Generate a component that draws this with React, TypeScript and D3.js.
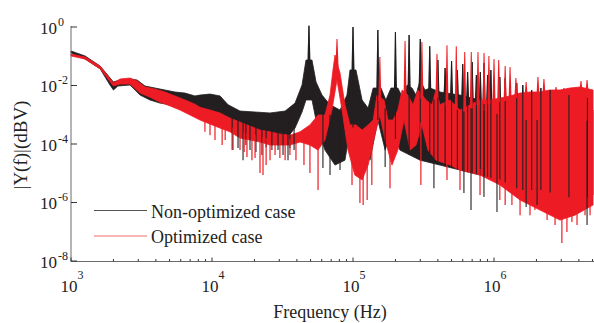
import React from "react";
import * as d3 from "d3";

type P = [number, number];

// [frequency (Hz), |Y(f)| (V)]
const blackUpper: P[] = [
  [1.0e3, 0.151], [1.26e3, 0.102], [1.61e3, 0.046], [2.0e3, 0.0132], [2.23e3, 0.0154],
  [2.62e3, 0.0167], [2.94e3, 0.0154], [3.35e3, 0.0096], [3.94e3, 0.0082], [4.64e3, 0.007],
  [5.46e3, 0.006], [6.44e3, 0.0055], [7.57e3, 0.0044], [8.22e3, 0.0047], [9.68e3, 0.0051],
  [1.14e4, 0.0044], [1.3e4, 0.0022], [1.58e4, 0.00134], [2.02e4, 0.00124], [2.58e4, 0.00115],
  [3.3e4, 0.00134], [3.88e4, 0.0025], [4.35e4, 0.0104], [4.64e4, 0.074], [5.12e4, 0.074],
  [5.47e4, 0.0132], [6.03e4, 0.0047], [6.87e4, 0.0022], [8.09e4, 0.00145], [9.06e4, 0.0047],
  [9.52e4, 0.034], [1.05e5, 0.034], [1.16e5, 0.0032], [1.28e5, 0.0017], [1.39e5, 0.0082],
  [1.58e5, 0.0082], [1.71e5, 0.0032], [1.86e5, 0.0082], [2.08e5, 0.0082], [2.26e5, 0.0037],
  [2.42e5, 0.0104], [2.62e5, 0.0082], [2.8e5, 0.0047], [2.99e5, 0.0154], [3.24e5, 0.007],
  [3.52e5, 0.0082], [4.14e5, 0.006], [5.74e5, 0.0047], [7.96e5, 0.0032], [1.1e6, 0.0022],
  [1.53e6, 0.00145], [2.12e6, 0.00145], [2.94e6, 0.00098], [4.07e6, 0.00124], [5.04e6, 0.00145],
];
const blackLower: P[] = [
  [1.0e3, 0.129], [1.26e3, 0.08], [1.61e3, 0.037], [1.89e3, 0.0104], [2.0e3, 0.007],
  [2.15e3, 0.0096], [2.62e3, 0.0104], [3.09e3, 0.0047], [3.63e3, 0.0032], [4.28e3, 0.0025],
  [5.04e3, 0.0022], [5.93e3, 0.0018], [6.98e3, 0.00145], [8.22e3, 0.0017], [9.68e3, 0.00124],
  [1.14e4, 6.6e-4], [1.34e4, 3.0e-4], [1.58e4, 2.0e-4], [2.02e4, 2.0e-4], [2.58e4, 1.73e-4],
  [3.3e4, 1.37e-4], [3.88e4, 3.5e-4], [4.35e4, 1.24e-3], [4.64e4, 0.0032], [5.12e4, 0.0032],
  [5.65e4, 3.0e-4], [6.33e4, 6.2e-5], [7.45e4, 1.9e-5], [8.77e4, 2.8e-5], [9.52e4, 3.0e-4],
  [1.05e5, 4.5e-4], [1.16e5, 6.2e-5], [1.32e5, 2.8e-5], [1.5e5, 6.6e-4], [1.69e5, 6.2e-5],
  [1.89e5, 3.0e-4], [2.15e5, 6.2e-5], [2.99e5, 2.8e-5], [4.14e5, 1.9e-5], [5.74e5, 1.29e-5],
  [7.96e5, 8.7e-6], [1.1e6, 5.9e-6], [1.53e6, 2.7e-6], [2.12e6, 2.7e-6], [2.94e6, 1.8e-6],
  [4.07e6, 1.22e-6], [5.04e6, 1.8e-6],
];
const blackPeaks: P[] = [
  [4.87e4, 1.1], [1.0e5, 1.0], [1.5e5, 0.79], [2.0e5, 0.67], [2.5e5, 0.53], [3.0e5, 0.39],
  [3.5e5, 0.22], [4.0e5, 0.074], [4.5e5, 0.04], [5.0e5, 0.069], [5.5e5, 0.034], [6.0e5, 0.054],
  [6.5e5, 0.029], [7.0e5, 0.064], [7.5e5, 0.023], [8.0e5, 0.029], [8.5e5, 0.059], [9.0e5, 0.023],
  [9.5e5, 0.034], [1.1e6, 0.0195], [1.2e6, 0.018], [1.45e6, 0.0122], [1.6e6, 0.0104],
  [1.85e6, 0.007], [2.15e6, 0.0082], [2.5e6, 0.007], [3.4e6, 0.0047], [4.6e6, 0.0037],
];
const blackDips: P[] = [
  [1.39e4, 6.2e-5], [1.53e4, 7.3e-5], [1.66e4, 2.8e-5], [1.74e4, 9.2e-5], [1.86e4, 6.2e-5],
  [2.05e4, 5.3e-5], [2.26e4, 4.2e-5], [2.42e4, 7.8e-5], [2.66e4, 6.2e-5], [2.94e4, 6.2e-5],
  [3.19e4, 4.2e-5], [3.46e4, 2.8e-5], [3.57e4, 7.3e-5], [3.82e4, 6.2e-5],
  [6.12e4, 1.51e-5], [6.87e4, 8.7e-6], [8.09e4, 1.29e-5], [1.69e5, 1.64e-5], [3.75e5, 3.1e-6],
  [6.12e5, 2.1e-6], [6.87e5, 5.5e-7], [8.49e5, 1.54e-6], [1.05e6, 4.7e-7], [1.69e6, 7.0e-7],
  [2.02e6, 8.2e-7], [4.57e6, 1.7e-7],
];

const redUpper: P[] = [
  [1.0e3, 0.119], [1.26e3, 0.094], [1.61e3, 0.046], [2.0e3, 0.0122], [2.23e3, 0.0167],
  [2.62e3, 0.018], [2.94e3, 0.0143], [3.35e3, 0.0089], [3.94e3, 0.0076], [4.64e3, 0.006],
  [5.46e3, 0.0044], [6.44e3, 0.0032], [7.57e3, 0.0023], [8.22e3, 0.0018], [9.68e3, 0.00145],
  [1.14e4, 0.00115], [1.34e4, 7.7e-4], [1.58e4, 5.6e-4], [1.86e4, 4.1e-4], [2.19e4, 3.0e-4],
  [2.58e4, 2.6e-4], [3.03e4, 2.2e-4], [3.57e4, 2.0e-4], [4.21e4, 2.6e-4], [4.95e4, 4.5e-4],
  [5.65e4, 9.8e-4], [6.33e4, 9.8e-4], [6.87e4, 0.0047], [7.21e4, 0.034], [7.45e4, 0.11],
  [8.09e4, 0.0267], [8.77e4, 0.0022], [9.52e4, 4.5e-4], [1.05e5, 4.5e-4], [1.16e5, 3.0e-4],
  [1.28e5, 4.5e-4], [1.39e5, 6.6e-4], [1.48e5, 0.0047], [1.66e5, 0.0032], [1.77e5, 6.6e-4],
  [1.92e5, 6.6e-4], [2.08e5, 0.00145], [2.23e5, 0.007], [2.45e5, 0.0047], [2.66e5, 0.0022],
  [2.89e5, 0.007], [3.3e5, 0.0032], [3.63e5, 0.0022], [3.88e5, 0.007], [4.14e5, 0.0022],
  [4.87e5, 0.0032], [5.74e5, 0.00145], [6.76e5, 0.0022], [7.96e5, 0.0032], [9.37e5, 0.0032],
  [1.1e6, 0.0037], [1.3e6, 0.0044], [1.53e6, 0.0055], [1.8e6, 0.006], [2.12e6, 0.006],
  [2.49e6, 0.007], [2.94e6, 0.007], [3.46e6, 0.0082], [4.07e6, 0.0089], [5.04e6, 0.007],
];
const redLower: P[] = [
  [1.0e3, 0.102], [1.26e3, 0.08], [1.61e3, 0.037], [2.0e3, 0.0096], [2.23e3, 0.0112],
  [2.62e3, 0.0112], [3.09e3, 0.0055], [3.63e3, 0.004], [4.28e3, 0.0027], [5.04e3, 0.002],
  [5.93e3, 0.00145], [6.98e3, 9.8e-4], [8.22e3, 6.6e-4], [9.68e3, 4.8e-4], [1.14e4, 3.5e-4],
  [1.34e4, 2.6e-4], [1.58e4, 1.6e-4], [1.86e4, 1.37e-4], [2.19e4, 1.17e-4], [2.58e4, 9.2e-5],
  [3.03e4, 9.2e-5], [3.57e4, 9.2e-5], [4.21e4, 1.17e-4], [4.95e4, 9.2e-5], [5.65e4, 6.2e-5],
  [6.33e4, 1.37e-4], [7.09e4, 0.00145], [7.7e4, 0.0154], [8.36e4, 0.00145], [9.22e4, 6.2e-5],
  [1.03e5, 8.7e-6], [1.16e5, 5.9e-6], [1.28e5, 1.9e-5], [1.43e5, 2.0e-4], [1.55e5, 9.8e-4],
  [1.69e5, 1.37e-4], [1.89e5, 1.9e-5], [2.08e5, 6.2e-5], [2.3e5, 6.6e-4], [2.54e5, 6.2e-5],
  [2.8e5, 9.2e-5], [3.08e5, 4.5e-4], [3.4e5, 6.2e-5], [3.88e5, 2.8e-5], [4.87e5, 1.9e-5],
  [5.74e5, 1.29e-5], [7.96e5, 8.7e-6], [1.1e6, 4.0e-6], [1.53e6, 1.22e-6], [2.12e6, 5.5e-7],
  [2.94e6, 2.5e-7], [3.75e6, 3.7e-7], [5.04e6, 8.2e-7],
];
const redPeaks: P[] = [
  [7.7e4, 0.39], [1.55e5, 0.094], [2.34e5, 0.33], [3.08e5, 0.31], [3.94e5, 0.119],
  [4.64e5, 0.24], [5.4e5, 0.22], [6.2e5, 0.14], [6.9e5, 0.14], [7.7e5, 0.14], [8.5e5, 0.129],
  [9.2e5, 0.102], [1.0e6, 0.08], [1.08e6, 0.074], [1.2e6, 0.046], [1.3e6, 0.043],
  [1.43e6, 0.018], [1.69e6, 0.0132], [2.05e6, 0.0195], [2.26e6, 0.0167], [2.75e6, 0.0089],
  [3.13e6, 0.0082], [4.14e6, 0.0143], [4.57e6, 0.0154],
];
const redDips: P[] = [
  [8.91e3, 2.6e-4], [9.68e3, 2.0e-4], [1.05e4, 1.37e-4], [1.18e4, 9.2e-5], [1.24e4, 1.37e-4],
  [1.41e4, 6.2e-5], [1.58e4, 6.2e-5], [1.69e4, 5.3e-5], [1.77e4, 3.6e-5], [1.92e4, 2.8e-5],
  [2.02e4, 3.3e-5], [2.19e4, 1.02e-5], [2.3e4, 8.7e-6], [2.42e4, 1.9e-5], [2.58e4, 2.8e-5],
  [2.8e4, 4.2e-5], [3.03e4, 3.3e-5], [3.3e4, 2.8e-5], [3.57e4, 4.2e-5], [3.94e4, 2.8e-5],
  [4.49e4, 1.9e-5], [4.95e4, 1.02e-5], [5.65e4, 2.7e-6], [9.84e4, 4.0e-6], [1.12e5, 9.6e-7],
  [1.18e5, 8.2e-7], [1.26e5, 1.22e-6], [1.36e5, 4.0e-6], [1.83e5, 3.1e-6], [3.03e5, 4.0e-6],
  [4.64e5, 5.9e-6], [5.74e5, 2.7e-6], [7.96e5, 1.8e-6], [1.1e6, 1.22e-6], [1.2e6, 8.2e-7],
  [1.34e6, 8.2e-7], [1.53e6, 3.7e-7], [1.8e6, 3.7e-7], [1.95e6, 5.5e-7], [2.38e6, 2.5e-7],
  [2.71e6, 1.7e-7], [3.03e6, 4.1e-8], [3.29e6, 9.8e-8], [3.57e6, 2.15e-7], [3.88e6, 1.7e-7],
  [4.42e6, 3.7e-7], [4.8e6, 3.7e-7],
];

const xTickExps = [3, 4, 5, 6];
const yTickExps = [0, -2, -4, -6, -8];
const legendLabels = ["Non-optimized case", "Optimized case"];
const xTitle = "Frequency (Hz)";
const yTitle = "|Y(f)|(dBV)";

const BLACK = "#231f20";
const RED = "#ed1c24";
const AXIS = "#6b6b6b";
const FONT = "'Liberation Serif', 'Times New Roman', serif";

function interpLog(env: P[], f: number): number {
  const lf = Math.log10(f);
  for (let i = 0; i < env.length - 1; i++) {
    const [f0, v0] = env[i];
    const [f1, v1] = env[i + 1];
    if (f >= f0 && f <= f1) {
      const t = (lf - Math.log10(f0)) / (Math.log10(f1) - Math.log10(f0));
      return Math.pow(10, Math.log10(v0) + t * (Math.log10(v1) - Math.log10(v0)));
    }
  }
  return f < env[0][0] ? env[0][1] : env[env.length - 1][1];
}

export default function App() {
  const x = d3.scaleLog().domain([1e3, 1e6]).range([71, 494]);
  const y = d3.scaleLog().domain([1e-8, 1]).range([261, 27]);
  const xEnd = 594;
  const xAxis = x.copy().domain([1e3, x.invert(xEnd)]).range([71, xEnd]);
  const ticks = xAxis.ticks();

  const line = d3.line<P>().x((d) => x(d[0])).y((d) => y(d[1]));
  const band = (up: P[], lo: P[]) => (line([...up, ...lo.slice().reverse()]) || "") + "Z";
  const spike = (env: P[], p: P, w: number) => {
    const px = x(p[0]);
    const py = y(p[1]);
    const by = y(interpLog(env, p[0])) + 4;
    return `M${px - w},${by}L${px - 0.5},${py}L${px + 0.5},${py}L${px + w},${by}Z`;
  };

  return (
    <svg width={594} height={323} style={{ position: "absolute", left: 0, top: 0, background: "#fff" }}
      fontFamily={FONT}>
      {/* black series */}
      <path d={band(blackUpper, blackLower)} fill={BLACK} stroke={BLACK} strokeWidth={0.8} />
      {blackPeaks.map((p, i) => (
        <path key={"bp" + i} d={spike(blackUpper, p, 1.6)} fill={BLACK} />
      ))}
      {/* red series */}
      <path d={band(redUpper, redLower)} fill={RED} stroke={RED} strokeWidth={0.8} />
      {/* black lines visible through red */}
      {blackPeaks.map((p, i) => (
        <line key={"bl" + i} x1={x(p[0])} x2={x(p[0])} y1={y(p[1])} y2={y(interpLog(blackLower, p[0]))}
          stroke={BLACK} strokeWidth={1.1} />
      ))}
      {blackDips.map((p, i) => (
        <line key={"bd" + i} x1={x(p[0])} x2={x(p[0])} y1={y(interpLog(blackUpper, p[0])) + 10} y2={y(p[1])}
          stroke={BLACK} strokeWidth={1.1} />
      ))}
      {redPeaks.map((p, i) => (
        <path key={"rp" + i} d={spike(redUpper, p, 1.5)} fill={RED} />
      ))}
      {redDips.map((p, i) => (
        <line key={"rd" + i} x1={x(p[0])} x2={x(p[0])} y1={y(interpLog(redLower, p[0])) - 6} y2={y(p[1])}
          stroke={RED} strokeWidth={1.2} />
      ))}

      {/* axes */}
      <line x1={71} x2={71} y1={26} y2={261.5} stroke={AXIS} strokeWidth={1} />
      <line x1={71} x2={xEnd} y1={261.5} y2={261.5} stroke={AXIS} strokeWidth={1} />
      {ticks.map((t, i) => {
        const major = Math.abs(Math.log10(t) - Math.round(Math.log10(t))) < 1e-9;
        return (
          <line key={"xt" + i} x1={xAxis(t)} x2={xAxis(t)} y1={261.5} y2={261.5 - (major ? 4 : 2.5)}
            stroke="#333" strokeWidth={1} />
        );
      })}
      {yTickExps.map((e) => (
        <line key={"yt" + e} x1={71} x2={77} y1={y(Math.pow(10, e))} y2={y(Math.pow(10, e))} stroke="#333" strokeWidth={1} />
      ))}
      {yTickExps.map((e) => {
        const yy = y(Math.pow(10, e));
        return (
          <g key={"yl" + e} fill="#222">
            <text x={57} y={yy + 6.5} fontSize={17} textAnchor="end">10</text>
            <text x={58} y={yy - 1.5} fontSize={12} textAnchor="start">{String(e)}</text>
          </g>
        );
      })}
      {xTickExps.map((e) => {
        const xx = x(Math.pow(10, e));
        return (
          <g key={"xl" + e} fill="#222">
            <text x={xx - 2} y={292} fontSize={17} textAnchor="middle">10</text>
            <text x={xx + 6.5} y={279} fontSize={12} textAnchor="start">{e}</text>
          </g>
        );
      })}
      <text x={330} y={318} fontSize={18} textAnchor="middle" fill="#222">{xTitle}</text>
      <text transform="translate(27,145) rotate(-90)" fontSize={19} textAnchor="middle" fill="#222">{yTitle}</text>

      {/* legend */}
      <line x1={94} x2={147} y1={210.5} y2={210.5} stroke="#555" strokeWidth={1.2} />
      <line x1={94} x2={147} y1={236} y2={236} stroke="#f26d6d" strokeWidth={1} />
      <text x={151} y={217.5} fontSize={18} fill="#222">{legendLabels[0]}</text>
      <text x={151} y={243} fontSize={18} fill="#222">{legendLabels[1]}</text>
    </svg>
  );
}
